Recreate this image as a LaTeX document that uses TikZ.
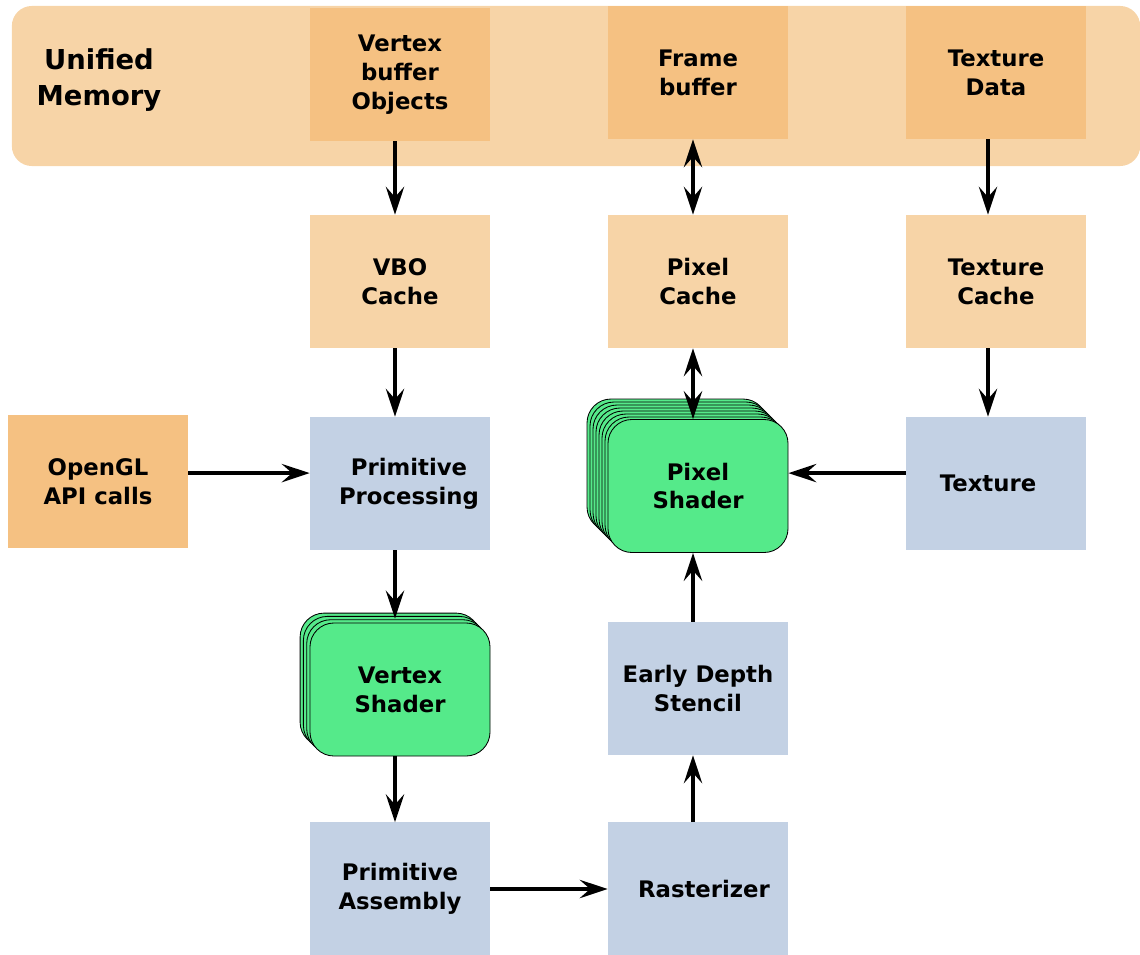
\documentclass[tikz,border=0pt]{standalone}
\usepackage{fontspec}
\setmainfont{DejaVu Sans}
\usetikzlibrary{calc, arrows.meta}
\definecolor{memlight}{HTML}{F7D4A7}
\definecolor{memdark}{HTML}{F5C182}
\definecolor{stageblue}{HTML}{C3D1E4}
\definecolor{shadergreen}{HTML}{55EA8A}
\tikzset{
  font=\bfseries\fontsize{16.2}{20.6}\selectfont,
  % Set arrowhead
  >={Stealth[length=7mm, width=4.6mm, inset=2.6mm]},
  % General box
  box/.style={shape=rectangle, minimum width=4.5cm, minimum height=3.325cm,
    align=center, inner sep=0pt},
  % Memory block
  mem/.style={box, fill=memdark},
  % Cache block
  cache/.style={box, fill=memlight},
  % Fixed pipeline stage
  stage/.style={box, fill=stageblue},
  % Programmable shader
  shader/.style={box, fill=shadergreen, draw, rounded corners=0.6cm, line width=0.6pt},
  % Copies behind a shader
  layer/.style={fill=shadergreen, draw, rounded corners=0.6cm, line width=0.6pt},
  % Data flow
  flow/.style={->, line width=2.3pt},
  flow2/.style={<->, line width=2.3pt},
  % Column shifts of the vertical arrows
  lcol/.style={xshift=-0.125cm},
  rcol/.style={xshift=-0.2cm},
}

\begin{document}
\begin{tikzpicture}[x=0.025cm, y=-0.025cm]
  \useasboundingbox (0,0) rectangle (1140,955);

  % unified memory
  \node[fill=memlight, rounded corners=0.5cm, minimum width=28.2cm,
    minimum height=4cm] (umem) at (576,86) {};
  \node[align=center, font=\bfseries\fontsize{19.5}{25}\selectfont] (umemlabel) at (99,80) {Unified\\Memory};
  \node[mem] (vbo) at (400,74.5) {Vertex\\buffer\\Objects};
  \node[mem] (fb) at (698,72.5) {Frame\\buffer};
  \node[mem] (texdata) at (996,72.5) {Texture\\Data};

  % caches
  \node[cache] (vbocache) at (400,281.5) {VBO\\Cache};
  \node[cache] (pixcache) at (698,281.5) {Pixel\\Cache};
  \node[cache] (texcache) at (996,281.5) {Texture\\Cache};

  % pipeline
  \node[mem] (api) at (98,481.5) {OpenGL\\API calls};
  \node[stage] (primproc) at (400,483.5) {\hspace*{0.45cm}Primitive\\\hspace*{0.45cm}Processing};
  \node[stage] (texture) at (996,483.5) {Texture\hspace*{0.4cm}};
  \node[stage] (depth) at (698,688.5) {Early Depth\\Stencil};
  \node[stage] (primasm) at (400,889) {Primitive\\Assembly};
  \node[stage] (raster) at (698,889) {\hspace*{0.3cm}Rasterizer};

  % shader stacks
  \foreach \k in {7,...,1}
    \draw[layer] ($(698,486)+(-90-3*\k,-66-3*\k)$) rectangle ($(698,486)+(90-3*\k,66-3*\k)$);
  \node[shader] (pixshader) at (698,486) {Pixel\\Shader};
  \foreach \k in {3,...,1}
    \draw[layer] ($(400,689.5)+(-90-3.3*\k,-66.5-3.3*\k)$) rectangle ($(400,689.5)+(90-3.3*\k,66.5-3.3*\k)$);
  \node[shader] (vshader) at (400,689.5) {Vertex\\Shader};

  % connections
  \draw[flow] ([lcol]vbo.south) -- ([lcol]vbocache.north);
  \draw[flow] ([lcol]vbocache.south) -- ([lcol]primproc.north);
  \draw[flow] ([yshift=0.21cm]api.east) -- ([yshift=0.21cm]api.east -| primproc.west);
  \draw[flow] ([lcol]primproc.south) -- ([lcol,yshift=0.1cm]vshader.north);
  \draw[flow] ([lcol]vshader.south) -- ([lcol]primasm.north);
  \draw[flow] (primasm) -- (raster);
  \draw[flow] ([lcol]raster.north) -- ([lcol]depth.south);
  \draw[flow] ([lcol]depth.north) -- ([lcol]pixshader.south);
  \draw[flow] ([yshift=0.26cm]texture.west) -- ([yshift=0.26cm]texture.west -| pixshader.east);
  \draw[flow] ([rcol]texdata.south) -- ([rcol]texcache.north);
  \draw[flow] ([rcol]texcache.south) -- ([rcol]texture.north);
  \draw[flow2] ([lcol]fb.south) -- ([lcol]pixcache.north);
  \draw[flow2] ([lcol]pixcache.south) -- ([lcol]pixshader.north);
\end{tikzpicture}
\end{document}
